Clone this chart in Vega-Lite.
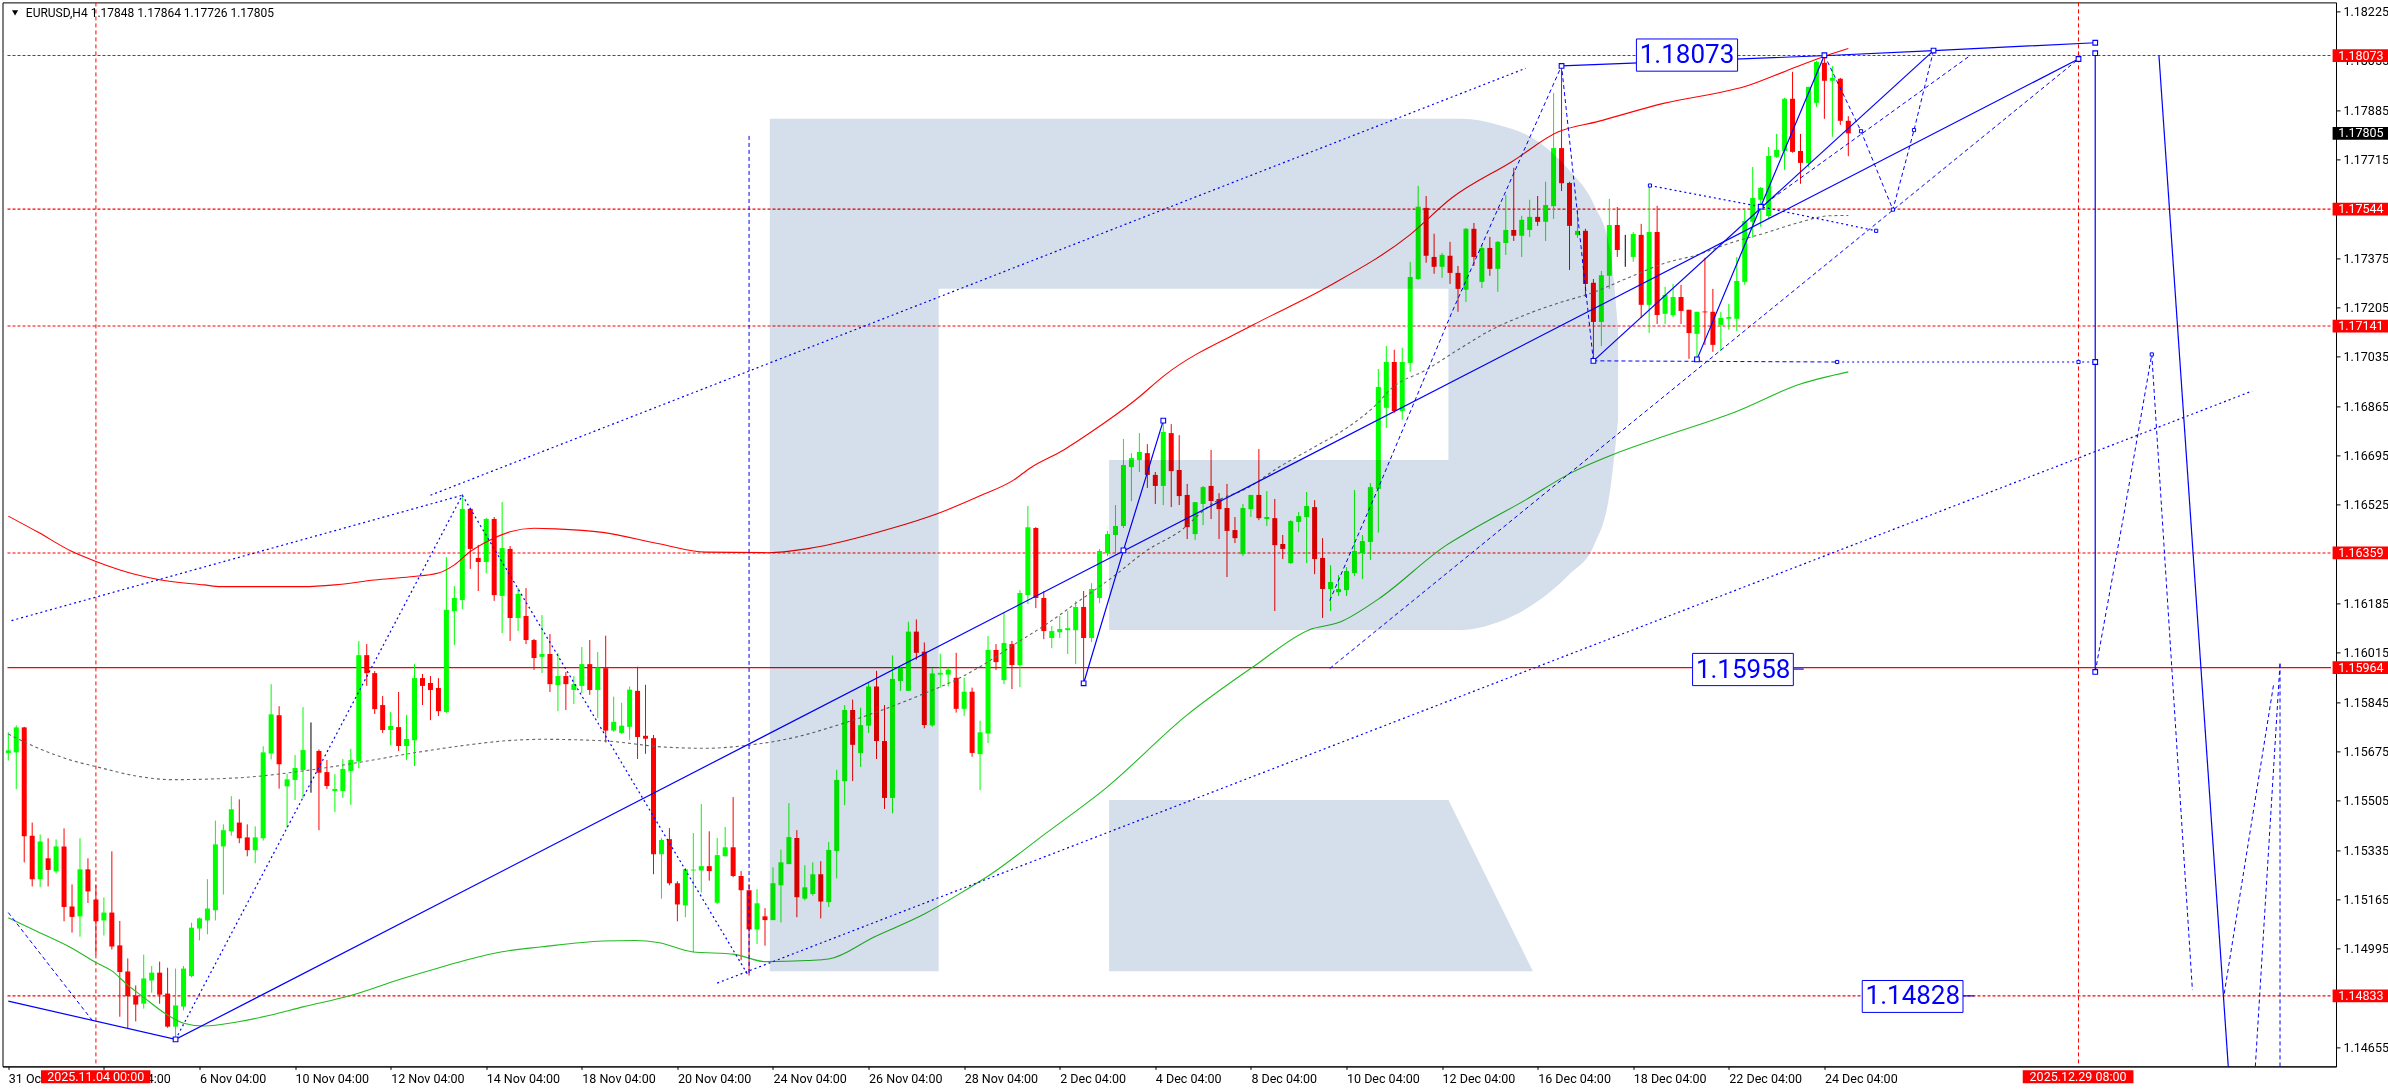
{"$schema":"https://vega.github.io/schema/vega-lite/v6.json","width":2333.5,"height":1064,"autosize":"none","padding":{"left":2.5,"top":2.4,"right":52,"bottom":23.6},"background":"#ffffff","view":{"stroke":"#000000","strokeWidth":1},"config":{"text":{"font":"Roboto"}},
"datasets":{
"candles":[
{"b":0,"o":1.1567,"h":1.15741,"l":1.15644,"c":1.15679,"d":"u"},{"b":1,"o":1.15672,"h":1.15765,"l":1.15545,"c":1.15758,"d":"u"},{"b":2,"o":1.15758,"h":1.1576,"l":1.15293,"c":1.15383,"d":"d"},{"b":3,"o":1.15385,"h":1.1543,"l":1.1521,"c":1.15235,"d":"d"},{"b":4,"o":1.15235,"h":1.15389,"l":1.15207,"c":1.15365,"d":"u"},{"b":5,"o":1.15307,"h":1.15376,"l":1.1521,"c":1.15267,"d":"d"},{"b":6,"o":1.15262,"h":1.15372,"l":1.15255,"c":1.15348,"d":"u"},{"b":7,"o":1.15348,"h":1.1541,"l":1.1509,"c":1.15139,"d":"d"},{"b":8,"o":1.15141,"h":1.15217,"l":1.15051,"c":1.15105,"d":"d"},{"b":9,"o":1.15107,"h":1.15376,"l":1.15037,"c":1.15269,"d":"u"},
{"b":10,"o":1.15269,"h":1.15307,"l":1.15153,"c":1.15193,"d":"d"},{"b":11,"o":1.15165,"h":1.15215,"l":1.14974,"c":1.1509,"d":"d"},{"b":12,"o":1.15093,"h":1.15172,"l":1.15041,"c":1.1512,"d":"u"},{"b":13,"o":1.1512,"h":1.15331,"l":1.14993,"c":1.15003,"d":"d"},{"b":14,"o":1.15007,"h":1.15091,"l":1.14761,"c":1.14915,"d":"d"},{"b":15,"o":1.14917,"h":1.14962,"l":1.14722,"c":1.14832,"d":"d"},{"b":16,"o":1.14834,"h":1.14869,"l":1.14745,"c":1.14803,"d":"d"},{"b":17,"o":1.14806,"h":1.14975,"l":1.14789,"c":1.14893,"d":"u"},{"b":18,"o":1.14886,"h":1.14936,"l":1.14844,"c":1.14913,"d":"u"},{"b":19,"o":1.14913,"h":1.14951,"l":1.14806,"c":1.14837,"d":"d"},
{"b":20,"o":1.14841,"h":1.1493,"l":1.14723,"c":1.14727,"d":"d"},{"b":21,"o":1.14727,"h":1.14927,"l":1.14688,"c":1.148,"d":"u"},{"b":22,"o":1.14796,"h":1.14936,"l":1.14783,"c":1.14927,"d":"u"},{"b":23,"o":1.14901,"h":1.15085,"l":1.14897,"c":1.15068,"d":"u"},{"b":24,"o":1.15065,"h":1.15103,"l":1.15024,"c":1.151,"d":"u"},{"b":25,"o":1.15093,"h":1.15235,"l":1.15045,"c":1.15134,"d":"u"},{"b":26,"o":1.15128,"h":1.15437,"l":1.15093,"c":1.15355,"d":"u"},{"b":27,"o":1.15348,"h":1.15424,"l":1.15182,"c":1.15404,"d":"u"},{"b":28,"o":1.154,"h":1.15521,"l":1.15385,"c":1.15476,"d":"u"},{"b":29,"o":1.1543,"h":1.1551,"l":1.15359,"c":1.15376,"d":"d"},
{"b":30,"o":1.15379,"h":1.15424,"l":1.15314,"c":1.15335,"d":"d"},{"b":31,"o":1.15335,"h":1.15417,"l":1.1529,"c":1.15379,"d":"u"},{"b":32,"o":1.15376,"h":1.15693,"l":1.15368,"c":1.15672,"d":"u"},{"b":33,"o":1.15668,"h":1.15907,"l":1.15648,"c":1.15803,"d":"u"},{"b":34,"o":1.158,"h":1.15831,"l":1.15547,"c":1.15631,"d":"d"},{"b":35,"o":1.15555,"h":1.15598,"l":1.15411,"c":1.15579,"d":"u"},{"b":36,"o":1.15577,"h":1.15663,"l":1.15508,"c":1.15618,"d":"u"},{"b":37,"o":1.15611,"h":1.15828,"l":1.15514,"c":1.1568,"d":"u"},{"b":38,"o":1.15679,"h":1.15775,"l":1.15533,"c":1.15679,"d":"n"},{"b":39,"o":1.15677,"h":1.15682,"l":1.15404,"c":1.15602,"d":"d"},
{"b":40,"o":1.15604,"h":1.15646,"l":1.15546,"c":1.15556,"d":"d"},{"b":41,"o":1.15539,"h":1.15597,"l":1.15466,"c":1.15546,"d":"u"},{"b":42,"o":1.15539,"h":1.15649,"l":1.15515,"c":1.15615,"d":"u"},{"b":43,"o":1.15608,"h":1.15684,"l":1.15491,"c":1.15646,"d":"u"},{"b":44,"o":1.15641,"h":1.16056,"l":1.15618,"c":1.16007,"d":"u"},{"b":45,"o":1.16007,"h":1.16045,"l":1.15901,"c":1.15945,"d":"d"},{"b":46,"o":1.15945,"h":1.15952,"l":1.15804,"c":1.15821,"d":"d"},{"b":47,"o":1.15835,"h":1.15866,"l":1.15739,"c":1.15749,"d":"d"},{"b":48,"o":1.15749,"h":1.15811,"l":1.15697,"c":1.15763,"d":"u"},{"b":49,"o":1.15759,"h":1.1588,"l":1.15677,"c":1.15694,"d":"d"},
{"b":50,"o":1.15694,"h":1.15801,"l":1.15646,"c":1.15718,"d":"u"},{"b":51,"o":1.15714,"h":1.15976,"l":1.15625,"c":1.15928,"d":"u"},{"b":52,"o":1.15928,"h":1.15942,"l":1.15835,"c":1.15901,"d":"d"},{"b":53,"o":1.15911,"h":1.15935,"l":1.15783,"c":1.15887,"d":"d"},{"b":54,"o":1.15894,"h":1.15928,"l":1.15797,"c":1.15814,"d":"d"},{"b":55,"o":1.15811,"h":1.16345,"l":1.15808,"c":1.16163,"d":"u"},{"b":56,"o":1.16159,"h":1.16245,"l":1.16042,"c":1.16204,"d":"u"},{"b":57,"o":1.16197,"h":1.16559,"l":1.16166,"c":1.16511,"d":"u"},{"b":58,"o":1.16511,"h":1.16515,"l":1.16304,"c":1.16373,"d":"d"},{"b":59,"o":1.16342,"h":1.16387,"l":1.16228,"c":1.16328,"d":"d"},
{"b":60,"o":1.16328,"h":1.1648,"l":1.1629,"c":1.16476,"d":"u"},{"b":61,"o":1.16476,"h":1.16483,"l":1.16194,"c":1.16214,"d":"d"},{"b":62,"o":1.16211,"h":1.16535,"l":1.16083,"c":1.16376,"d":"u"},{"b":63,"o":1.16373,"h":1.16383,"l":1.16056,"c":1.16135,"d":"d"},{"b":64,"o":1.16135,"h":1.16238,"l":1.1609,"c":1.16218,"d":"u"},{"b":65,"o":1.16142,"h":1.16238,"l":1.16045,"c":1.16059,"d":"d"},{"b":66,"o":1.16059,"h":1.16063,"l":1.15956,"c":1.15997,"d":"d"},{"b":67,"o":1.16001,"h":1.16145,"l":1.15945,"c":1.16011,"d":"u"},{"b":68,"o":1.16011,"h":1.1608,"l":1.1588,"c":1.15907,"d":"d"},{"b":69,"o":1.15904,"h":1.16014,"l":1.15814,"c":1.15935,"d":"u"},
{"b":70,"o":1.15935,"h":1.15949,"l":1.15818,"c":1.15907,"d":"d"},{"b":71,"o":1.15887,"h":1.15935,"l":1.15839,"c":1.15907,"d":"u"},{"b":72,"o":1.15901,"h":1.16035,"l":1.15876,"c":1.15976,"d":"u"},{"b":73,"o":1.15976,"h":1.16059,"l":1.1587,"c":1.15887,"d":"d"},{"b":74,"o":1.15887,"h":1.16018,"l":1.1579,"c":1.15964,"d":"u"},{"b":75,"o":1.15962,"h":1.16074,"l":1.15706,"c":1.15747,"d":"d"},{"b":76,"o":1.15747,"h":1.15864,"l":1.15743,"c":1.15777,"d":"u"},{"b":77,"o":1.15739,"h":1.15843,"l":1.15736,"c":1.15764,"d":"u"},{"b":78,"o":1.1576,"h":1.15899,"l":1.15715,"c":1.15888,"d":"u"},{"b":79,"o":1.15884,"h":1.15967,"l":1.15649,"c":1.15725,"d":"d"},
{"b":80,"o":1.15729,"h":1.15905,"l":1.15667,"c":1.15719,"d":"d"},{"b":81,"o":1.15721,"h":1.15732,"l":1.15252,"c":1.15321,"d":"d"},{"b":82,"o":1.15321,"h":1.15377,"l":1.15168,"c":1.1537,"d":"u"},{"b":83,"o":1.15373,"h":1.15411,"l":1.15214,"c":1.15221,"d":"d"},{"b":84,"o":1.15221,"h":1.15228,"l":1.1509,"c":1.15148,"d":"d"},{"b":85,"o":1.15145,"h":1.15273,"l":1.15104,"c":1.15269,"d":"u"},{"b":86,"o":1.15265,"h":1.15394,"l":1.14983,"c":1.15268,"d":"u"},{"b":87,"o":1.15265,"h":1.15494,"l":1.15189,"c":1.1528,"d":"u"},{"b":88,"o":1.1528,"h":1.154,"l":1.1523,"c":1.15263,"d":"d"},{"b":89,"o":1.15154,"h":1.15377,"l":1.1515,"c":1.15318,"d":"u"},
{"b":90,"o":1.15314,"h":1.15415,"l":1.15314,"c":1.15345,"d":"u"},{"b":91,"o":1.15345,"h":1.15518,"l":1.15242,"c":1.15246,"d":"d"},{"b":92,"o":1.15246,"h":1.15263,"l":1.14956,"c":1.15197,"d":"d"},{"b":93,"o":1.15197,"h":1.15218,"l":1.14903,"c":1.15062,"d":"d"},{"b":94,"o":1.15062,"h":1.15201,"l":1.15012,"c":1.15152,"d":"u"},{"b":95,"o":1.15107,"h":1.15135,"l":1.15006,"c":1.15094,"d":"d"},{"b":96,"o":1.15094,"h":1.15276,"l":1.15094,"c":1.15221,"d":"u"},{"b":97,"o":1.15214,"h":1.15337,"l":1.15086,"c":1.15293,"d":"u"},{"b":98,"o":1.15287,"h":1.15497,"l":1.15287,"c":1.1538,"d":"u"},{"b":99,"o":1.15377,"h":1.15404,"l":1.15104,"c":1.15173,"d":"d"},
{"b":100,"o":1.15168,"h":1.15283,"l":1.15162,"c":1.15207,"d":"u"},{"b":101,"o":1.15184,"h":1.15293,"l":1.15178,"c":1.15252,"d":"u"},{"b":102,"o":1.15252,"h":1.15297,"l":1.151,"c":1.15158,"d":"d"},{"b":103,"o":1.15156,"h":1.15363,"l":1.15139,"c":1.15336,"d":"u"},{"b":104,"o":1.15332,"h":1.15612,"l":1.15238,"c":1.15577,"d":"u"},{"b":105,"o":1.15573,"h":1.15835,"l":1.1549,"c":1.15818,"d":"u"},{"b":106,"o":1.15818,"h":1.15854,"l":1.15573,"c":1.15698,"d":"d"},{"b":107,"o":1.1567,"h":1.15826,"l":1.15622,"c":1.15766,"d":"u"},{"b":108,"o":1.15764,"h":1.15913,"l":1.15739,"c":1.15899,"d":"u"},{"b":109,"o":1.15899,"h":1.15953,"l":1.15649,"c":1.15711,"d":"d"},
{"b":110,"o":1.15711,"h":1.15835,"l":1.15477,"c":1.15515,"d":"d"},{"b":111,"o":1.15515,"h":1.16006,"l":1.15462,"c":1.15925,"d":"u"},{"b":112,"o":1.15918,"h":1.15966,"l":1.15884,"c":1.15963,"d":"u"},{"b":113,"o":1.15884,"h":1.16122,"l":1.15884,"c":1.16088,"d":"u"},{"b":114,"o":1.16088,"h":1.1613,"l":1.15991,"c":1.16015,"d":"d"},{"b":115,"o":1.16019,"h":1.16051,"l":1.15755,"c":1.15766,"d":"d"},{"b":116,"o":1.15765,"h":1.15962,"l":1.1576,"c":1.15944,"d":"u"},{"b":117,"o":1.1594,"h":1.16012,"l":1.15895,"c":1.15946,"d":"u"},{"b":118,"o":1.1594,"h":1.15967,"l":1.15899,"c":1.15957,"d":"u"},{"b":119,"o":1.15929,"h":1.16015,"l":1.15809,"c":1.15822,"d":"d"},
{"b":120,"o":1.15822,"h":1.15929,"l":1.15798,"c":1.15881,"d":"u"},{"b":121,"o":1.15881,"h":1.15895,"l":1.15657,"c":1.1567,"d":"d"},{"b":122,"o":1.15666,"h":1.15781,"l":1.15542,"c":1.15741,"d":"u"},{"b":123,"o":1.15737,"h":1.16073,"l":1.15704,"c":1.16025,"d":"u"},{"b":124,"o":1.16025,"h":1.16045,"l":1.15956,"c":1.15983,"d":"d"},{"b":125,"o":1.15921,"h":1.16155,"l":1.15907,"c":1.16049,"d":"u"},{"b":126,"o":1.16045,"h":1.16056,"l":1.1589,"c":1.15973,"d":"d"},{"b":127,"o":1.15973,"h":1.16231,"l":1.15897,"c":1.16221,"d":"u"},{"b":128,"o":1.16214,"h":1.16521,"l":1.16183,"c":1.16448,"d":"u"},{"b":129,"o":1.16445,"h":1.16448,"l":1.16169,"c":1.16204,"d":"d"},
{"b":130,"o":1.16204,"h":1.16228,"l":1.16062,"c":1.1609,"d":"d"},{"b":131,"o":1.16066,"h":1.16107,"l":1.16031,"c":1.1609,"d":"u"},{"b":132,"o":1.16086,"h":1.16142,"l":1.16066,"c":1.16097,"d":"u"},{"b":133,"o":1.16093,"h":1.16159,"l":1.16011,"c":1.161,"d":"u"},{"b":134,"o":1.16093,"h":1.16193,"l":1.15976,"c":1.16173,"d":"u"},{"b":135,"o":1.16173,"h":1.16228,"l":1.1591,"c":1.16066,"d":"d"},{"b":136,"o":1.16066,"h":1.16255,"l":1.16052,"c":1.16235,"d":"u"},{"b":137,"o":1.16204,"h":1.16373,"l":1.16186,"c":1.16366,"d":"u"},{"b":138,"o":1.16359,"h":1.16435,"l":1.16348,"c":1.16424,"d":"u"},{"b":139,"o":1.16421,"h":1.16524,"l":1.16355,"c":1.16452,"d":"u"},
{"b":140,"o":1.16452,"h":1.16752,"l":1.16445,"c":1.16662,"d":"u"},{"b":141,"o":1.16655,"h":1.16703,"l":1.16538,"c":1.16686,"d":"u"},{"b":142,"o":1.16679,"h":1.16772,"l":1.16638,"c":1.16707,"d":"u"},{"b":143,"o":1.16703,"h":1.16734,"l":1.16583,"c":1.16628,"d":"d"},{"b":144,"o":1.16628,"h":1.16638,"l":1.16528,"c":1.1659,"d":"d"},{"b":145,"o":1.1659,"h":1.16817,"l":1.16524,"c":1.16776,"d":"u"},{"b":146,"o":1.16772,"h":1.16803,"l":1.16517,"c":1.16641,"d":"d"},{"b":147,"o":1.16645,"h":1.16765,"l":1.16524,"c":1.16555,"d":"d"},{"b":148,"o":1.16559,"h":1.16597,"l":1.16407,"c":1.16448,"d":"d"},{"b":149,"o":1.16424,"h":1.16534,"l":1.16404,"c":1.16534,"d":"u"},
{"b":150,"o":1.16528,"h":1.1659,"l":1.16455,"c":1.16586,"d":"u"},{"b":151,"o":1.1659,"h":1.16714,"l":1.16476,"c":1.16538,"d":"d"},{"b":152,"o":1.16545,"h":1.16565,"l":1.16407,"c":1.1651,"d":"d"},{"b":153,"o":1.16514,"h":1.16597,"l":1.16276,"c":1.16435,"d":"d"},{"b":154,"o":1.16438,"h":1.16483,"l":1.16393,"c":1.1641,"d":"d"},{"b":155,"o":1.16355,"h":1.16528,"l":1.16348,"c":1.16514,"d":"u"},{"b":156,"o":1.1651,"h":1.16559,"l":1.16483,"c":1.16559,"d":"u"},{"b":157,"o":1.16559,"h":1.16717,"l":1.16472,"c":1.16479,"d":"d"},{"b":158,"o":1.16476,"h":1.16572,"l":1.16452,"c":1.16483,"d":"u"},{"b":159,"o":1.16479,"h":1.16545,"l":1.16159,"c":1.16386,"d":"d"},
{"b":160,"o":1.1639,"h":1.16421,"l":1.16338,"c":1.16373,"d":"d"},{"b":161,"o":1.16324,"h":1.16472,"l":1.16321,"c":1.16469,"d":"u"},{"b":162,"o":1.16466,"h":1.165,"l":1.16431,"c":1.16486,"d":"u"},{"b":163,"o":1.16483,"h":1.16569,"l":1.16324,"c":1.16521,"d":"u"},{"b":164,"o":1.16517,"h":1.16541,"l":1.16286,"c":1.16338,"d":"d"},{"b":165,"o":1.16342,"h":1.1641,"l":1.16135,"c":1.16235,"d":"d"},{"b":166,"o":1.16235,"h":1.16317,"l":1.16159,"c":1.16259,"d":"u"},{"b":167,"o":1.16224,"h":1.16283,"l":1.16211,"c":1.16235,"d":"u"},{"b":168,"o":1.16231,"h":1.1631,"l":1.16211,"c":1.16297,"d":"u"},{"b":169,"o":1.1629,"h":1.16576,"l":1.16279,"c":1.16366,"d":"u"},
{"b":170,"o":1.16359,"h":1.16421,"l":1.16269,"c":1.164,"d":"u"},{"b":171,"o":1.16397,"h":1.166,"l":1.16335,"c":1.16586,"d":"u"},{"b":172,"o":1.1658,"h":1.16993,"l":1.16429,"c":1.16931,"d":"u"},{"b":173,"o":1.16859,"h":1.17072,"l":1.1679,"c":1.17017,"d":"u"},{"b":174,"o":1.17017,"h":1.17059,"l":1.16842,"c":1.16848,"d":"d"},{"b":175,"o":1.16848,"h":1.17066,"l":1.16818,"c":1.17017,"d":"u"},{"b":176,"o":1.17014,"h":1.17362,"l":1.16983,"c":1.1731,"d":"u"},{"b":177,"o":1.17303,"h":1.17624,"l":1.173,"c":1.17552,"d":"u"},{"b":178,"o":1.17548,"h":1.17589,"l":1.17359,"c":1.17383,"d":"d"},{"b":179,"o":1.17379,"h":1.17459,"l":1.17321,"c":1.17345,"d":"d"},
{"b":180,"o":1.17345,"h":1.17393,"l":1.17307,"c":1.17386,"d":"u"},{"b":181,"o":1.17383,"h":1.17431,"l":1.17286,"c":1.17324,"d":"d"},{"b":182,"o":1.17324,"h":1.17348,"l":1.1719,"c":1.17269,"d":"d"},{"b":183,"o":1.17266,"h":1.17479,"l":1.17224,"c":1.17476,"d":"u"},{"b":184,"o":1.17476,"h":1.17496,"l":1.17348,"c":1.17379,"d":"d"},{"b":185,"o":1.17293,"h":1.17421,"l":1.17272,"c":1.1741,"d":"u"},{"b":186,"o":1.1741,"h":1.17448,"l":1.17314,"c":1.17338,"d":"d"},{"b":187,"o":1.17338,"h":1.17434,"l":1.17259,"c":1.17431,"d":"u"},{"b":188,"o":1.17427,"h":1.17593,"l":1.17386,"c":1.17472,"d":"u"},{"b":189,"o":1.17472,"h":1.17686,"l":1.17434,"c":1.17452,"d":"d"},
{"b":190,"o":1.17452,"h":1.17521,"l":1.17379,"c":1.17507,"d":"u"},{"b":191,"o":1.17472,"h":1.17576,"l":1.17448,"c":1.17517,"d":"u"},{"b":192,"o":1.17517,"h":1.17589,"l":1.17486,"c":1.175,"d":"d"},{"b":193,"o":1.175,"h":1.17638,"l":1.17434,"c":1.17558,"d":"u"},{"b":194,"o":1.17554,"h":1.17944,"l":1.1751,"c":1.17754,"d":"u"},{"b":195,"o":1.17754,"h":1.18037,"l":1.17606,"c":1.17633,"d":"d"},{"b":196,"o":1.17634,"h":1.17638,"l":1.17334,"c":1.17486,"d":"d"},{"b":197,"o":1.17455,"h":1.17541,"l":1.17445,"c":1.17469,"d":"u"},{"b":198,"o":1.17469,"h":1.17476,"l":1.17241,"c":1.17286,"d":"d"},{"b":199,"o":1.1729,"h":1.17303,"l":1.17028,"c":1.17155,"d":"d"},
{"b":200,"o":1.17155,"h":1.17331,"l":1.17072,"c":1.17316,"d":"u"},{"b":201,"o":1.17314,"h":1.17579,"l":1.17269,"c":1.17489,"d":"u"},{"b":202,"o":1.17489,"h":1.17551,"l":1.17379,"c":1.17403,"d":"d"},{"b":203,"o":1.1738,"h":1.17455,"l":1.17345,"c":1.1738,"d":"n"},{"b":204,"o":1.17379,"h":1.17465,"l":1.17362,"c":1.17458,"d":"u"},{"b":205,"o":1.17455,"h":1.17493,"l":1.17169,"c":1.17214,"d":"d"},{"b":206,"o":1.17214,"h":1.1762,"l":1.17117,"c":1.17465,"d":"u"},{"b":207,"o":1.17465,"h":1.17555,"l":1.17148,"c":1.17179,"d":"d"},{"b":208,"o":1.17183,"h":1.17276,"l":1.17148,"c":1.17248,"d":"u"},{"b":209,"o":1.17179,"h":1.17286,"l":1.17172,"c":1.17241,"d":"u"},
{"b":210,"o":1.17241,"h":1.17283,"l":1.17148,"c":1.17193,"d":"d"},{"b":211,"o":1.17197,"h":1.17197,"l":1.17028,"c":1.17117,"d":"d"},{"b":212,"o":1.17114,"h":1.1719,"l":1.17028,"c":1.1719,"d":"u"},{"b":213,"o":1.17191,"h":1.17376,"l":1.17076,"c":1.17188,"d":"d"},{"b":214,"o":1.1719,"h":1.17269,"l":1.17052,"c":1.17076,"d":"d"},{"b":215,"o":1.17145,"h":1.1719,"l":1.17055,"c":1.17169,"d":"u"},{"b":216,"o":1.17166,"h":1.17217,"l":1.17128,"c":1.17172,"d":"u"},{"b":217,"o":1.17166,"h":1.17379,"l":1.17124,"c":1.17296,"d":"u"},{"b":218,"o":1.17293,"h":1.17541,"l":1.17283,"c":1.17503,"d":"u"},{"b":219,"o":1.175,"h":1.17689,"l":1.17445,"c":1.17582,"d":"u"},
{"b":220,"o":1.17576,"h":1.1762,"l":1.17483,"c":1.17617,"d":"u"},{"b":221,"o":1.1752,"h":1.17758,"l":1.1751,"c":1.17727,"d":"u"},{"b":222,"o":1.17724,"h":1.17803,"l":1.1772,"c":1.17748,"d":"u"},{"b":223,"o":1.17744,"h":1.17927,"l":1.17679,"c":1.17924,"d":"u"},{"b":224,"o":1.17924,"h":1.18017,"l":1.17738,"c":1.17741,"d":"d"},{"b":225,"o":1.17744,"h":1.17803,"l":1.17631,"c":1.17703,"d":"d"},{"b":226,"o":1.17703,"h":1.17965,"l":1.17689,"c":1.17965,"d":"u"},{"b":227,"o":1.1791,"h":1.18055,"l":1.17896,"c":1.18051,"d":"u"},{"b":228,"o":1.18048,"h":1.1807,"l":1.17855,"c":1.17986,"d":"d"},{"b":229,"o":1.17986,"h":1.18037,"l":1.17793,"c":1.17996,"d":"u"},
{"b":230,"o":1.17993,"h":1.17996,"l":1.17834,"c":1.17848,"d":"d"},{"b":231,"o":1.17848,"h":1.17864,"l":1.17726,"c":1.17805,"d":"d"}
],
"ma":[
{"s":"red","b":0,"p":1.16486},{"s":"red","b":3.7,"p":1.16431},{"s":"red","b":8,"p":1.16364},{"s":"red","b":11,"p":1.1633},{"s":"red","b":16,"p":1.16285},{"s":"red","b":19,"p":1.16267},{"s":"red","b":24.6,"p":1.16249},{"s":"red","b":26.7,"p":1.16243},{"s":"red","b":37,"p":1.16243},{"s":"red","b":41,"p":1.16249},{"s":"red","b":46,"p":1.16266},{"s":"red","b":50.5,"p":1.16277},{"s":"red","b":54,"p":1.1629},{"s":"red","b":56,"p":1.16318},{"s":"red","b":58,"p":1.16364},{"s":"red","b":60.5,"p":1.16404},{"s":"red","b":63,"p":1.16432},{"s":"red","b":66,"p":1.16444},{"s":"red","b":68.7,"p":1.16442},{"s":"red","b":74.6,"p":1.1643},{"s":"red","b":81.7,"p":1.16391},{"s":"red","b":87.5,"p":1.16362},{"s":"red","b":95.5,"p":1.1636},{"s":"red","b":100.4,"p":1.16374},{"s":"red","b":110.8,"p":1.16443},{"s":"red","b":116.7,"p":1.16495},{"s":"red","b":122,"p":1.16556},{"s":"red","b":126.2,"p":1.1661},{"s":"red","b":128.3,"p":1.16652},{"s":"red","b":132.5,"p":1.16714},{"s":"red","b":135.8,"p":1.16773},{"s":"red","b":141.5,"p":1.16886},{"s":"red","b":145.2,"p":1.16972},{"s":"red","b":156.3,"p":1.17145},{"s":"red","b":165.3,"p":1.17271},{"s":"red","b":176,"p":1.17456},{"s":"red","b":181.2,"p":1.17582},{"s":"red","b":188.8,"p":1.17708},{"s":"red","b":194.6,"p":1.1781},{"s":"red","b":199.6,"p":1.17846},{"s":"red","b":207.8,"p":1.17908},{"s":"red","b":218.7,"p":1.17972},{"s":"red","b":223.2,"p":1.1802},{"s":"red","b":228.3,"p":1.18073},{"s":"red","b":231,"p":1.18097},
{"s":"green","b":0,"p":1.15102},{"s":"green","b":3.7,"p":1.15054},{"s":"green","b":8,"p":1.14997},{"s":"green","b":11,"p":1.14948},{"s":"green","b":13,"p":1.14919},{"s":"green","b":15,"p":1.1487},{"s":"green","b":17,"p":1.14828},{"s":"green","b":19.6,"p":1.14774},{"s":"green","b":22,"p":1.14739},{"s":"green","b":24.6,"p":1.14729},{"s":"green","b":28.7,"p":1.14743},{"s":"green","b":33,"p":1.14767},{"s":"green","b":37,"p":1.14795},{"s":"green","b":43,"p":1.14834},{"s":"green","b":49.2,"p":1.1489},{"s":"green","b":54.2,"p":1.14931},{"s":"green","b":58,"p":1.1496},{"s":"green","b":62,"p":1.14985},{"s":"green","b":67,"p":1.15002},{"s":"green","b":74.6,"p":1.15022},{"s":"green","b":78.7,"p":1.15024},{"s":"green","b":81.7,"p":1.15016},{"s":"green","b":85.8,"p":1.14985},{"s":"green","b":91.2,"p":1.14976},{"s":"green","b":95,"p":1.14951},{"s":"green","b":100.4,"p":1.14955},{"s":"green","b":103,"p":1.1496},{"s":"green","b":108.7,"p":1.15036},{"s":"green","b":115,"p":1.15115},{"s":"green","b":119.2,"p":1.15181},{"s":"green","b":123.3,"p":1.15251},{"s":"green","b":130.2,"p":1.15392},{"s":"green","b":137.8,"p":1.15549},{"s":"green","b":148,"p":1.15801},{"s":"green","b":156.3,"p":1.15967},{"s":"green","b":163.3,"p":1.16094},{"s":"green","b":167.2,"p":1.16121},{"s":"green","b":172,"p":1.162},{"s":"green","b":180.6,"p":1.16387},{"s":"green","b":183.7,"p":1.16438},{"s":"green","b":190.5,"p":1.16542},{"s":"green","b":196.2,"p":1.16635},{"s":"green","b":202,"p":1.16704},{"s":"green","b":207.2,"p":1.16755},{"s":"green","b":216.8,"p":1.16845},{"s":"green","b":225,"p":1.16941},{"s":"green","b":231,"p":1.16983},
{"s":"grey","b":0,"p":1.15735},{"s":"grey","b":3.7,"p":1.15687},{"s":"grey","b":8,"p":1.15644},{"s":"grey","b":11,"p":1.15623},{"s":"grey","b":16.2,"p":1.1559},{"s":"grey","b":20.5,"p":1.15578},{"s":"grey","b":28.7,"p":1.15584},{"s":"grey","b":37,"p":1.15608},{"s":"grey","b":44.2,"p":1.15638},{"s":"grey","b":50,"p":1.15666},{"s":"grey","b":56.7,"p":1.15694},{"s":"grey","b":62.5,"p":1.15712},{"s":"grey","b":67,"p":1.15717},{"s":"grey","b":74.6,"p":1.15712},{"s":"grey","b":82.5,"p":1.1569},{"s":"grey","b":87.5,"p":1.15686},{"s":"grey","b":93,"p":1.15697},{"s":"grey","b":98.3,"p":1.15721},{"s":"grey","b":104.6,"p":1.1577},{"s":"grey","b":110.8,"p":1.15829},{"s":"grey","b":115,"p":1.15875},{"s":"grey","b":119.2,"p":1.15925},{"s":"grey","b":122,"p":1.15967},{"s":"grey","b":126.2,"p":1.16042},{"s":"grey","b":130.5,"p":1.16117},{"s":"grey","b":134.6,"p":1.16197},{"s":"grey","b":138.7,"p":1.16277},{"s":"grey","b":143,"p":1.16369},{"s":"grey","b":147,"p":1.16432},{"s":"grey","b":151.2,"p":1.1653},{"s":"grey","b":155.5,"p":1.16582},{"s":"grey","b":159.6,"p":1.16656},{"s":"grey","b":163.7,"p":1.1672},{"s":"grey","b":168,"p":1.16789},{"s":"grey","b":171.7,"p":1.16869},{"s":"grey","b":173.7,"p":1.16927},{"s":"grey","b":178,"p":1.1699},{"s":"grey","b":182,"p":1.17059},{"s":"grey","b":186.2,"p":1.17128},{"s":"grey","b":190.5,"p":1.1718},{"s":"grey","b":194.6,"p":1.1722},{"s":"grey","b":198.7,"p":1.17254},{"s":"grey","b":203.7,"p":1.17311},{"s":"grey","b":208,"p":1.17358},{"s":"grey","b":212,"p":1.17386},{"s":"grey","b":216.2,"p":1.17427},{"s":"grey","b":220.5,"p":1.17461},{"s":"grey","b":224.6,"p":1.17496},{"s":"grey","b":228.7,"p":1.17521},{"s":"grey","b":231,"p":1.17522}
],
"logo":[
{"part":"bar","b":95.6,"p":1.17855,"p2":1.14918},{"part":"bar","b":116.8,"p":1.17855,"p2":1.14918},
{"part":"top","b":116.8,"p":1.17855,"p2":1.17269},{"part":"top","b":180.8,"p":1.17855,"p2":1.17269},
{"part":"low","b":138.2,"p":1.16679,"p2":1.16094},{"part":"low","b":180.8,"p":1.16679,"p2":1.16094},
{"part":"leg","b":138.2,"p":1.15508,"p2":1.14918},{"part":"leg","b":180.8,"p":1.15508,"p2":1.14918},{"part":"leg","b":191.4,"p":1.14918,"p2":1.14918}
],
"bowl":[
{"b":180.8,"p":1.17855,"p2":1.16094},{"b":182.5,"p":1.17855,"p2":1.16094},{"b":187.1,"p":1.17834,"p2":1.16121},{"b":191.5,"p":1.17786,"p2":1.16183},{"b":195.9,"p":1.17679,"p2":1.16283},{"b":199.1,"p":1.17558,"p2":1.16387},{"b":201.1,"p":1.17403,"p2":1.16576},{"b":202.1,"p":1.17127,"p2":1.16817}
],
"levels":[{"b":-0.1,"b2":291.6,"p":1.18073,"k":"dash"},{"b":-0.1,"b2":291.6,"p":1.17544,"k":"dash"},{"b":-0.1,"b2":291.6,"p":1.17141,"k":"dash"},{"b":-0.1,"b2":291.6,"p":1.16359,"k":"dash"},{"b":-0.1,"b2":291.6,"p":1.14833,"k":"dash"},{"b":-0.1,"b2":291.6,"p":1.15964,"k":"solid"}],
"verticals":[{"b":11,"p":1.18256,"p2":1.1459},{"b":259.9,"p":1.18256,"p2":1.1459}],
"solid":[
{"s":"A","n":0,"b":0,"p":1.14815},{"s":"A","n":1,"b":21,"p":1.14683},{"s":"A","n":2,"b":259.9,"p":1.18061},
{"s":"B","n":0,"b":135,"p":1.1591},{"s":"B","n":1,"b":140,"p":1.16368},{"s":"B","n":2,"b":145,"p":1.16815},
{"s":"C","n":0,"b":195,"p":1.18037},{"s":"C","n":1,"b":228.5,"p":1.18073},{"s":"C","n":2,"b":241.7,"p":1.1809},{"s":"C","n":3,"b":262,"p":1.18117},
{"s":"D","n":0,"b":212,"p":1.17026},{"s":"D","n":1,"b":220,"p":1.17552},{"s":"D","n":2,"b":228,"p":1.18074},
{"s":"E","n":0,"b":199,"p":1.17021},{"s":"E","n":1,"b":241.7,"p":1.1809},
{"s":"F","n":0,"b":262,"p":1.18081},{"s":"F","n":1,"b":262,"p":1.17016},{"s":"F","n":2,"b":262,"p":1.15949},
{"s":"G","n":0,"b":270,"p":1.18073},{"s":"G","n":1,"b":278.7,"p":1.1459},
{"s":"T1","n":0,"b":224.1,"p":1.15959},{"s":"T1","n":1,"b":225.4,"p":1.15959},
{"s":"T2","n":0,"b":245.4,"p":1.14833},{"s":"T2","n":1,"b":246.8,"p":1.14833}
],
"dotted":[
{"s":"H1","n":0,"b":0.4,"p":1.16126},{"s":"H1","n":1,"b":57,"p":1.16558},
{"s":"H2","n":0,"b":53,"p":1.16558},{"s":"H2","n":1,"b":190.5,"p":1.18029},
{"s":"I","n":0,"b":89,"p":1.14877},{"s":"I","n":1,"b":281.7,"p":1.16917},
{"s":"K","n":0,"b":21,"p":1.14683},{"s":"K","n":1,"b":57,"p":1.16558},{"s":"K","n":2,"b":92.9,"p":1.14903},
{"s":"P","n":0,"b":206.1,"p":1.17625},{"s":"P","n":1,"b":220,"p":1.17552},{"s":"P","n":2,"b":234.5,"p":1.17469},
{"s":"O2","n":0,"b":229.6,"p":1.17017},{"s":"O2","n":1,"b":262,"p":1.17017}
],
"dashed":[
{"s":"J","n":0,"b":0,"p":1.1512},{"s":"J","n":1,"b":10.75,"p":1.14741},
{"s":"M","n":0,"b":165.9,"p":1.15961},{"s":"M","n":1,"b":259.9,"p":1.18061},
{"s":"N","n":0,"b":165.9,"p":1.16195},{"s":"N","n":1,"b":172,"p":1.16583},{"s":"N","n":2,"b":181.2,"p":1.17186},{"s":"N","n":3,"b":195,"p":1.18037},{"s":"N","n":4,"b":199,"p":1.17019},
{"s":"O","n":0,"b":199,"p":1.17021},{"s":"O","n":1,"b":229.6,"p":1.17017},
{"s":"R","n":0,"b":228,"p":1.18074},{"s":"R","n":1,"b":232.6,"p":1.17812},{"s":"R","n":2,"b":236.6,"p":1.17542},{"s":"R","n":3,"b":239.25,"p":1.17816},{"s":"R","n":4,"b":241.7,"p":1.1809},
{"s":"S","n":0,"b":220,"p":1.17552},{"s":"S","n":1,"b":246.3,"p":1.18073},
{"s":"T","n":0,"b":262,"p":1.15949},{"s":"T","n":1,"b":265.6,"p":1.16492},{"s":"T","n":2,"b":269.1,"p":1.17043},{"s":"T","n":3,"b":274.2,"p":1.14853},
{"s":"U","n":0,"b":278.2,"p":1.14841},{"s":"U","n":1,"b":284.4,"p":1.15907},
{"s":"U2","n":0,"b":282.1,"p":1.1459},{"s":"U2","n":1,"b":285.2,"p":1.15979},
{"s":"V","n":0,"b":285.2,"p":1.1459},{"s":"V","n":1,"b":285.2,"p":1.15985},
{"s":"W","n":0,"b":93,"p":1.17796},{"s":"W","n":1,"b":93,"p":1.14908}
],
"nodes":[{"b":21,"p":1.14683},{"b":135,"p":1.1591},{"b":140,"p":1.16368},{"b":145,"p":1.16815},{"b":195,"p":1.18037},{"b":199,"p":1.17021},{"b":212,"p":1.17026},{"b":220,"p":1.17552},{"b":228,"p":1.18074},{"b":241.7,"p":1.1809},{"b":262,"p":1.18117},{"b":262,"p":1.18081},{"b":259.9,"p":1.18061},{"b":262,"p":1.17017},{"b":262,"p":1.15949}],
"smallnodes":[{"b":206.1,"p":1.17625},{"b":229.6,"p":1.17017},{"b":232.6,"p":1.17812},{"b":236.6,"p":1.17542},{"b":239.25,"p":1.17816},{"b":234.5,"p":1.17469},{"b":269.1,"p":1.17043},{"b":259.9,"p":1.17017}],
"boxes":[{"b":204.4,"b2":217.1,"p":1.1813,"p2":1.18019},{"b":211.45,"b2":224.1,"p":1.16013,"p2":1.15902},{"b":232.75,"b2":245.4,"p":1.14886,"p2":1.14776}],
"big":[{"b":210.75,"p":1.18074,"t":"1.18073"},{"b":217.8,"p":1.15957,"t":"1.15958"},{"b":239.1,"p":1.14831,"t":"1.14828"}],
"flags":[
{"b":291.8,"b2":299.8,"p":1.18095,"p2":1.18051,"f":"r"},{"b":291.8,"b2":299.8,"p":1.17566,"p2":1.17522,"f":"r"},{"b":291.8,"b2":299.8,"p":1.17163,"p2":1.17119,"f":"r"},{"b":291.8,"b2":299.8,"p":1.16381,"p2":1.16337,"f":"r"},{"b":291.8,"b2":299.8,"p":1.15986,"p2":1.15942,"f":"r"},{"b":291.8,"b2":299.8,"p":1.14855,"p2":1.14811,"f":"r"},{"b":291.8,"b2":299.8,"p":1.17827,"p2":1.17783,"f":"k"},
{"b":4.1,"b2":17.84,"p":1.14577,"p2":1.14532,"f":"r"},{"b":252.9,"b2":266.8,"p":1.14577,"p2":1.14532,"f":"r"}
],
"flagtext":[{"b":292.5,"p":1.18073,"t":"1.18073"},{"b":292.5,"p":1.17544,"t":"1.17544"},{"b":292.5,"p":1.17141,"t":"1.17141"},{"b":292.5,"p":1.16359,"t":"1.16359"},{"b":292.5,"p":1.15964,"t":"1.15964"},{"b":292.5,"p":1.14833,"t":"1.14833"},{"b":292.5,"p":1.17805,"t":"1.17805"}],
"datetext":[{"b":10.97,"p":1.14555,"t":"2025.11.04 00:00"},{"b":259.85,"p":1.14555,"t":"2025.12.29 08:00"}],
"header":[{"b":2.2,"p":1.1822,"t":"EURUSD,H4  1.17848 1.17864 1.17726 1.17805"}],
"marker":[{"b":0.85,"p":1.1822}]
},
"data":{"name":"candles"},
"encoding":{
"x":{"field":"b","type":"quantitative","title":null,"scale":{"domain":[-0.1,291.6],"nice":false,"zero":false},"axis":{"values":[0,12,24,36,48,60,72,84,96,108,120,132,144,156,168,180,192,204,216,228],"labelExpr":"['31 Oct 2025','4 Nov 04:00','6 Nov 04:00','10 Nov 04:00','12 Nov 04:00','14 Nov 04:00','18 Nov 04:00','20 Nov 04:00','24 Nov 04:00','26 Nov 04:00','28 Nov 04:00','2 Dec 04:00','4 Dec 04:00','8 Dec 04:00','10 Dec 04:00','12 Dec 04:00','16 Dec 04:00','18 Dec 04:00','22 Dec 04:00','24 Dec 04:00'][datum.value/12]","labelAlign":"left","labelBaseline":"top","labelPadding":3,"tickSize":3,"tickColor":"#000000","domainColor":"#000000","labelColor":"#000000","labelFont":"Roboto","labelFontSize":12.5,"labelOverlap":false,"labelBound":false,"labelFlush":false,"grid":false}},
"y":{"field":"p","type":"quantitative","title":null,"scale":{"domain":[1.1459,1.18256],"nice":false,"zero":false},"axis":{"orient":"right","values":[1.18225,1.18055,1.17885,1.17715,1.17545,1.17375,1.17205,1.17035,1.16865,1.16695,1.16525,1.16355,1.16185,1.16015,1.15845,1.15675,1.15505,1.15335,1.15165,1.14995,1.14825,1.14655],"labelExpr":"datum.value==1.17545||datum.value==1.16355||datum.value==1.14825?'':format(datum.value,'.5f')","labelAlign":"left","labelPadding":3,"tickSize":4,"tickColor":"#000000","domainColor":"#000000","labelColor":"#000000","labelFont":"Roboto","labelFontSize":12.5,"labelOverlap":false,"labelBound":false,"labelFlush":false,"grid":false}}
},
"layer":[
{"data":{"name":"levels"},"transform":[{"filter":"datum.k=='dash'"}],"mark":{"type":"rule","color":"#ff0000","strokeWidth":1.2,"strokeDash":[3,2]},"encoding":{"x2":{"field":"b2"}}},
{"data":{"name":"levels"},"transform":[{"filter":"datum.k=='solid'"}],"mark":{"type":"rule","color":"#ff0000","strokeWidth":1.2},"encoding":{"x2":{"field":"b2"}}},
{"data":{"name":"verticals"},"mark":{"type":"rule","color":"#ff0000","strokeWidth":1,"strokeDash":[4,3]},"encoding":{"y2":{"field":"p2"}}},
{"mark":{"type":"rule","strokeWidth":1},"encoding":{"y":{"field":"h","type":"quantitative"},"y2":{"field":"l"},"color":{"field":"d","type":"nominal","legend":null,"scale":{"domain":["u","d","n"],"range":["#00ff00","#ff0000","#000000"]}}}},
{"mark":{"type":"bar","size":5,"cornerRadius":0},"encoding":{"y":{"field":"o","type":"quantitative"},"y2":{"field":"c"},"color":{"field":"d","type":"nominal","legend":null,"scale":{"domain":["u","d","n"],"range":["#00ff00","#ff0000","#000000"]}}}},
{"data":{"name":"ma"},"transform":[{"filter":"datum.s=='red'"}],"mark":{"type":"line","color":"#ff0000","strokeWidth":1.1,"interpolate":"monotone"},"encoding":{}},
{"data":{"name":"ma"},"transform":[{"filter":"datum.s=='green'"}],"mark":{"type":"line","color":"#22bb22","strokeWidth":1.1,"interpolate":"monotone"},"encoding":{}},
{"data":{"name":"ma"},"transform":[{"filter":"datum.s=='grey'"}],"mark":{"type":"line","color":"#666666","strokeWidth":1.1,"strokeDash":[3,3],"interpolate":"monotone"},"encoding":{}},
{"data":{"name":"solid"},"mark":{"type":"line","color":"#0000ff","strokeWidth":1.2},"encoding":{"detail":{"field":"s"},"order":{"field":"n","type":"quantitative"}}},
{"data":{"name":"dashed"},"mark":{"type":"line","color":"#0000ff","strokeWidth":1,"strokeDash":[4,3]},"encoding":{"detail":{"field":"s"},"order":{"field":"n","type":"quantitative"}}},
{"data":{"name":"dotted"},"mark":{"type":"line","color":"#0000ff","strokeWidth":1.2,"strokeDash":[2,3]},"encoding":{"detail":{"field":"s"},"order":{"field":"n","type":"quantitative"}}},
{"data":{"name":"logo"},"mark":{"type":"area","color":"#d5dfeb","blend":"multiply","orient":"vertical"},"encoding":{"detail":{"field":"part"},"y2":{"field":"p2"}}},
{"data":{"name":"bowl"},"mark":{"type":"area","color":"#d5dfeb","blend":"multiply","orient":"vertical","interpolate":"monotone"},"encoding":{"y2":{"field":"p2"}}},
{"data":{"name":"nodes"},"mark":{"type":"point","shape":"square","size":22,"stroke":"#0000ff","strokeWidth":1.1,"fill":"#ffffff","filled":false,"opacity":1},"encoding":{}},
{"data":{"name":"smallnodes"},"mark":{"type":"point","shape":"square","size":10,"stroke":"#0000ff","strokeWidth":1,"fill":"#ffffff","opacity":1},"encoding":{}},
{"data":{"name":"boxes"},"mark":{"type":"rect","fill":"#ffffff","stroke":"#0000ff","strokeWidth":1},"encoding":{"x2":{"field":"b2"},"y2":{"field":"p2"}}},
{"data":{"name":"big"},"mark":{"type":"text","color":"#0000ff","fontSize":26,"font":"Roboto","align":"center","baseline":"middle"},"encoding":{"text":{"field":"t"}}},
{"data":{"name":"flags"},"mark":{"type":"rect","strokeWidth":0},"encoding":{"x2":{"field":"b2"},"y2":{"field":"p2"},"fill":{"field":"f","type":"nominal","legend":null,"scale":{"domain":["r","k"],"range":["#ff0000","#000000"]}}}},
{"data":{"name":"flagtext"},"mark":{"type":"text","color":"#ffffff","fontSize":12.5,"font":"Roboto","align":"left","baseline":"middle"},"encoding":{"text":{"field":"t"}}},
{"data":{"name":"datetext"},"mark":{"type":"text","color":"#ffffff","fontSize":12.5,"font":"Roboto","align":"center","baseline":"middle"},"encoding":{"text":{"field":"t"}}},
{"data":{"name":"header"},"mark":{"type":"text","color":"#000000","fontSize":12,"font":"Roboto","align":"left","baseline":"middle"},"encoding":{"text":{"field":"t"}}},
{"data":{"name":"marker"},"mark":{"type":"point","shape":"triangle-down","size":38,"filled":true,"color":"#000000","opacity":1},"encoding":{}}
]}
